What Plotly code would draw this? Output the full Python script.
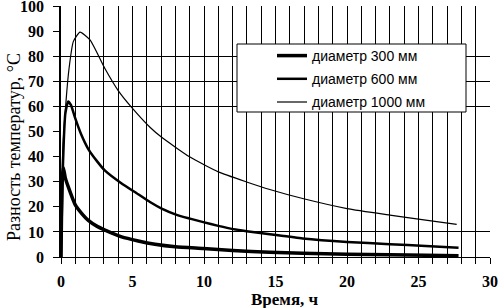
import plotly.graph_objects as go

# --- data ---
t300 = [0, 0.03, 0.08, 0.16, 0.3, 0.51, 0.98, 1.5, 1.91, 2.5, 3.08, 4.24, 5.4, 6.57,
        8.0, 9.95, 12.0, 14.6, 16.9, 20.0, 23.0, 25.5, 27.8]
d300 = [0, 15, 30, 35.7, 31.5, 27.9, 21.0, 17.0, 14.6, 12.3, 10.7, 8.0, 6.4, 5.1,
        4.1, 3.4, 2.6, 1.9, 1.5, 1.1, 0.9, 0.7, 0.5]

t600 = [0, 0.1, 0.2, 0.3, 0.5, 0.7, 0.98, 1.4, 1.91, 2.5, 3.08, 4.24, 5.4, 6.22, 7.04,
        8.09, 9.02, 9.95, 11.0, 12.05, 12.98, 14.6, 16.9, 20.0, 23.0, 25.5, 27.8]
d600 = [0, 30, 47, 57, 62, 60.5, 55.5, 49, 43, 38.3, 34.4, 29.3, 25.0, 21.9, 19.3,
        16.8, 15.3, 13.9, 12.4, 11.1, 10.3, 9.1, 7.4, 6.0, 5.1, 4.4, 3.7]

t1000 = [0, 0.12, 0.35, 0.56, 0.86, 1.33, 2.03, 3.08, 4.0, 4.94, 6.22, 7.04, 9.02,
         11.0, 12.98, 14.6, 16.9, 20.0, 23.0, 25.5, 27.67]
d1000 = [0, 42, 62, 75, 85.8, 89.6, 86.5, 75, 66.3, 59.6, 51.7, 47.7, 39.8,
         33.9, 29.9, 26.9, 23.3, 19.3, 16.7, 14.7, 13.0]

series_names = ["диаметр 300 мм", "диаметр 600 мм", "диаметр 1000 мм"]
x_title = "Время, ч"
y_title = "Разность температур, °С"
x_ticks = [0, 5, 10, 15, 20, 25, 30]
y_ticks = [0, 10, 20, 30, 40, 50, 60, 70, 80, 90, 100]
y_grid = [10, 60, 70, 80]

widths = [3.5, 2.5, 1.2]

fig = go.Figure()
for i, (t, d) in enumerate([(t300, d300), (t600, d600), (t1000, d1000)]):
    fig.add_trace(go.Scatter(x=t, y=d, mode="lines", name=series_names[i],
                             legendgroup=f"g{i}",
                             line=dict(color="black", width=widths[i], shape="spline", smoothing=0.5)))
# invisible trace to carry the overlay axis with partial horizontal grid
fig.add_trace(go.Scatter(x=[0], y=[0], yaxis="y2", mode="markers", showlegend=False,
                         marker=dict(opacity=0), hoverinfo="skip"))

serif_bold = dict(family="Liberation Serif", size=16, color="black", weight="bold")

fig.update_layout(
    width=499, height=308,
    margin=dict(l=61, r=9, t=6, b=51, autoexpand=False),
    plot_bgcolor="white", paper_bgcolor="white",
    xaxis=dict(range=[0, 30], tickvals=x_ticks, ticks="outside", ticklen=6, tickcolor="black",
               showgrid=True, gridcolor="black", gridwidth=1,
               minor=dict(dtick=1, ticks="outside", ticklen=6, tickcolor="black",
                          showgrid=True, gridcolor="black", gridwidth=1),
               showline=True, linecolor="black", linewidth=1, zeroline=False,
               tickfont=serif_bold, ticklabelstandoff=4, automargin=False,
               ticklabeloverflow="allow"),
    yaxis=dict(range=[0, 100], tickvals=y_ticks, ticks="outside", ticklen=6, tickcolor="black",
               showgrid=False, showline=True, linecolor="black", linewidth=1.5, zeroline=False,
               tickfont=serif_bold, ticklabelstandoff=6, automargin=False,
               ticklabeloverflow="allow"),
    yaxis2=dict(range=[0, 100], overlaying="y", tickvals=y_grid, showticklabels=False,
                ticks="", showgrid=True, gridcolor="black", gridwidth=1, zeroline=False,
                showline=False),
    showlegend=True,
    legend=dict(x=(272 - 61) / 429, xanchor="left", y=(257 - 40) / 251, yanchor="top",
                bgcolor="rgba(0,0,0,0)", borderwidth=0, tracegroupgap=2,
                font=dict(family="Liberation Sans", size=14, color="black")),
    shapes=[dict(type="rect", xref="paper", yref="paper",
                 x0=(237 - 61) / 429, x1=(466 - 61) / 429,
                 y0=(257 - 112) / 251, y1=(257 - 44) / 251,
                 fillcolor="white", line=dict(color="black", width=1), layer="above")],
    annotations=[
        dict(text=y_title, textangle=-90, xref="paper", yref="paper",
             x=(14 - 61) / 429, y=(257 - 147) / 251, xanchor="center", yanchor="middle",
             showarrow=False, font=dict(family="Liberation Serif", size=18, color="black")),
        dict(text=x_title, xref="paper", yref="paper",
             x=(285 - 61) / 429, y=(257 - 299) / 251, xanchor="center", yanchor="middle",
             showarrow=False, font=dict(family="Liberation Serif", size=17, color="black", weight="bold")),
    ],
)

fig.write_html("out.html", config={"displayModeBar": False},
               post_script="document.body.style.margin='0';")
